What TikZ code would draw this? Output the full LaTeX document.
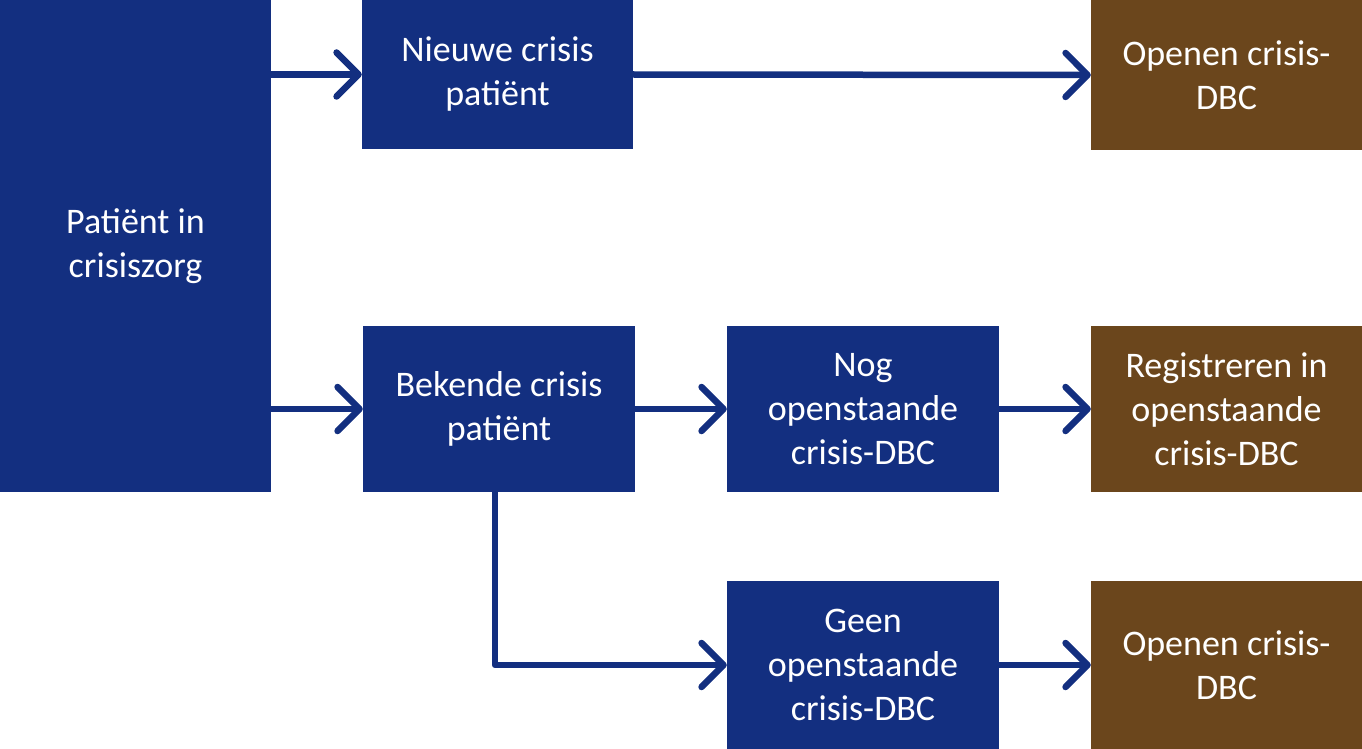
\documentclass[tikz,border=0pt]{standalone}
\usepackage{fontspec}
\setmainfont{Carlito}
\usetikzlibrary{arrows.meta,calc}
\definecolor{dblue}{HTML}{132F80}
\definecolor{brown}{HTML}{6B461C}
\begin{document}
\begin{tikzpicture}[x=1pt,y=-1pt,
  box/.style={fill=dblue,draw=none,text=white,align=center,inner sep=0pt,
    font=\fontsize{36}{44}\selectfont},
  bbox/.style={box,fill=brown},
  conn/.style={draw=dblue,line width=6.5pt,line cap=round,line join=round,
    -{Straight Barb[length=22pt,width=44pt,line width=6.5pt,round]}}]
\useasboundingbox (0,0) rectangle (1362,749);
\node[box,minimum width=271pt,minimum height=492pt] (pat) at (135.5,246) {Patiënt in\\crisiszorg};
\node[box,minimum width=271pt,minimum height=149pt] (nieuwe) at (497.5,74.5) {Nieuwe crisis\\patiënt};
\node[bbox,minimum width=271pt,minimum height=150pt] (open1) at (1226.5,75) {Openen crisis-\\DBC};
\node[box,minimum width=272pt,minimum height=166pt] (bekende) at (499,409) {Bekende crisis\\patiënt};
\node[box,minimum width=272pt,minimum height=166pt] (nog) at (863,409) {Nog\\openstaande\\crisis-DBC};
\node[bbox,minimum width=271pt,minimum height=166pt] (reg) at (1226.5,409) {Registreren in\\openstaande\\crisis-DBC};
\node[box,minimum width=272pt,minimum height=168pt] (geen) at (863,665) {Geen\\openstaande\\crisis-DBC};
\node[bbox,minimum width=271pt,minimum height=168pt] (open2) at (1226.5,665) {Openen crisis-\\DBC};
\coordinate (bk) at ($(bekende.south west)!0.485!(bekende.south east)$);
\draw[conn] (pat.east |- nieuwe.west) -- (nieuwe.west);
\draw[conn] (nieuwe.east) -- (open1.west);
\draw[conn] (pat.east |- bekende.west) -- (bekende.west);
\draw[conn] (bekende.east) -- (nog.west);
\draw[conn] (nog.east) -- (reg.west);
\draw[conn] (bk) |- (geen.west);
\draw[conn] (geen.east) -- (open2.west);
\end{tikzpicture}
\end{document}
